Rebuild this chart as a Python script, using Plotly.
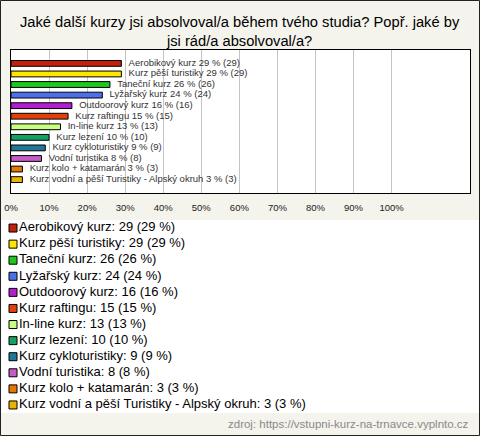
import plotly.graph_objects as go

categories = [
    "Aerobikový kurz", "Kurz pěší turistiky", "Taneční kurz", "Lyžařský kurz",
    "Outdoorový kurz", "Kurz raftingu", "In-line kurz", "Kurz lezení",
    "Kurz cykloturistiky", "Vodní turistika", "Kurz kolo + katamarán",
    "Kurz vodní a pěší Turistiky - Alpský okruh",
]
counts = [29, 29, 26, 24, 16, 15, 13, 10, 9, 8, 3, 3]
percents = [29, 29, 26, 24, 16, 15, 13, 10, 9, 8, 3, 3]
colors = ["#c4200e", "#ffe600", "#1ec81e", "#4a70f0", "#b41ed2", "#e2400a",
          "#c8ff80", "#14a064", "#1e7896", "#c85ac8", "#e67800", "#e8b400"]
tick_vals = [0, 10, 20, 30, 40, 50, 60, 70, 80, 90, 100]
tick_text = [f"{v}%" for v in tick_vals]
title_text = "Jaké další kurzy jsi absolvoval/a během tvého studia? Popř. jaké by<br>jsi rád/a absolvoval/a?"
source_text = "zdroj: https://vstupni-kurz-na-trnavce.vyplnto.cz"

W, H = 480, 436
BG = "#f4f3ec"

bar_labels = [f"{c} {p} % ({n})" for c, n, p in zip(categories, counts, percents)]
legend_labels = [f"{c}: {n} ({p} %)" for c, n, p in zip(categories, counts, percents)]

fig = go.Figure()
fig.add_trace(go.Bar(
    x=percents, y=categories, orientation="h",
    marker=dict(color=colors, line=dict(color="#000000", width=1)),
    width=0.55,
    hoverinfo="skip", showlegend=False,
    xaxis="x", yaxis="y",
))
# labels placed just right of each bar end
fig.add_trace(go.Scatter(
    x=percents, y=categories, mode="markers+text",
    marker=dict(size=10, color="rgba(0,0,0,0)"),
    text=bar_labels, textposition="middle right", cliponaxis=False,
    textfont=dict(family="Liberation Sans", size=9.5, color="#333333"),
    hoverinfo="skip", showlegend=False,
    xaxis="x", yaxis="y",
))
idx = list(range(len(categories)))
fig.add_trace(go.Scatter(
    x=[0] * len(categories), y=idx, mode="markers+text",
    marker=dict(symbol="square", size=8, color=colors, line=dict(color="#000000", width=1)),
    text=legend_labels, textposition="middle right",
    textfont=dict(family="Liberation Sans", size=13, color="#000000"),
    hoverinfo="skip", showlegend=False, cliponaxis=False,
    xaxis="x2", yaxis="y2",
))

def px_x(p):
    return p / W

def px_y(p):
    return 1 - p / H

fig.update_layout(
    width=W, height=H,
    margin=dict(l=0, r=0, t=0, b=0),
    paper_bgcolor=BG, plot_bgcolor="#ffffff",
    showlegend=False,
    xaxis=dict(
        domain=[px_x(11), px_x(470)], range=[0, 120.6], anchor="y",
        tickvals=tick_vals, ticktext=tick_text,
        tickfont=dict(family="Liberation Sans", size=9.5, color="#222222"),
        ticklabelstandoff=6,
        showgrid=True, gridcolor="#c4c4c4", gridwidth=1,
        showline=True, linecolor="#000000", linewidth=1, mirror=True,
        zeroline=False, ticks="", ticklen=0, automargin=False,
        fixedrange=True,
    ),
    yaxis=dict(
        domain=[px_y(193), px_y(50)], anchor="x",
        autorange="reversed", showticklabels=False, showgrid=False,
        showline=True, linecolor="#000000", linewidth=1, mirror=True,
        ticks="", automargin=False, fixedrange=True,
    ),
    xaxis2=dict(
        domain=[0, 1], range=[-13, W - 13], anchor="y2", visible=False,
        fixedrange=True,
    ),
    yaxis2=dict(
        domain=[px_y(413), px_y(220)], range=[11.5, -0.5], anchor="x2",
        visible=False, fixedrange=True,
    ),
    annotations=[
        dict(text=title_text, x=0.5, y=px_y(12), xref="paper", yref="paper",
             xanchor="center", yanchor="top", showarrow=False,
             font=dict(family="Liberation Sans", size=14.7, color="#000000")),
        dict(text=source_text, x=px_x(471), y=px_y(424), xref="paper", yref="paper",
             xanchor="right", yanchor="middle", showarrow=False,
             font=dict(family="Liberation Sans", size=11.5, color="#8a8a8a")),
    ],
    shapes=[
        dict(type="rect", xref="paper", yref="paper",
             x0=0.5 / W, x1=1 - 0.5 / W, y0=0.5 / H, y1=1 - 0.5 / H,
             line=dict(color="#222222", width=1), layer="above"),
    ],
)

fig.write_html(
    "out.html",
    config={"displayModeBar": False, "staticPlot": True},
    post_script="document.body.style.margin='0';document.body.style.overflow='hidden';",
)
